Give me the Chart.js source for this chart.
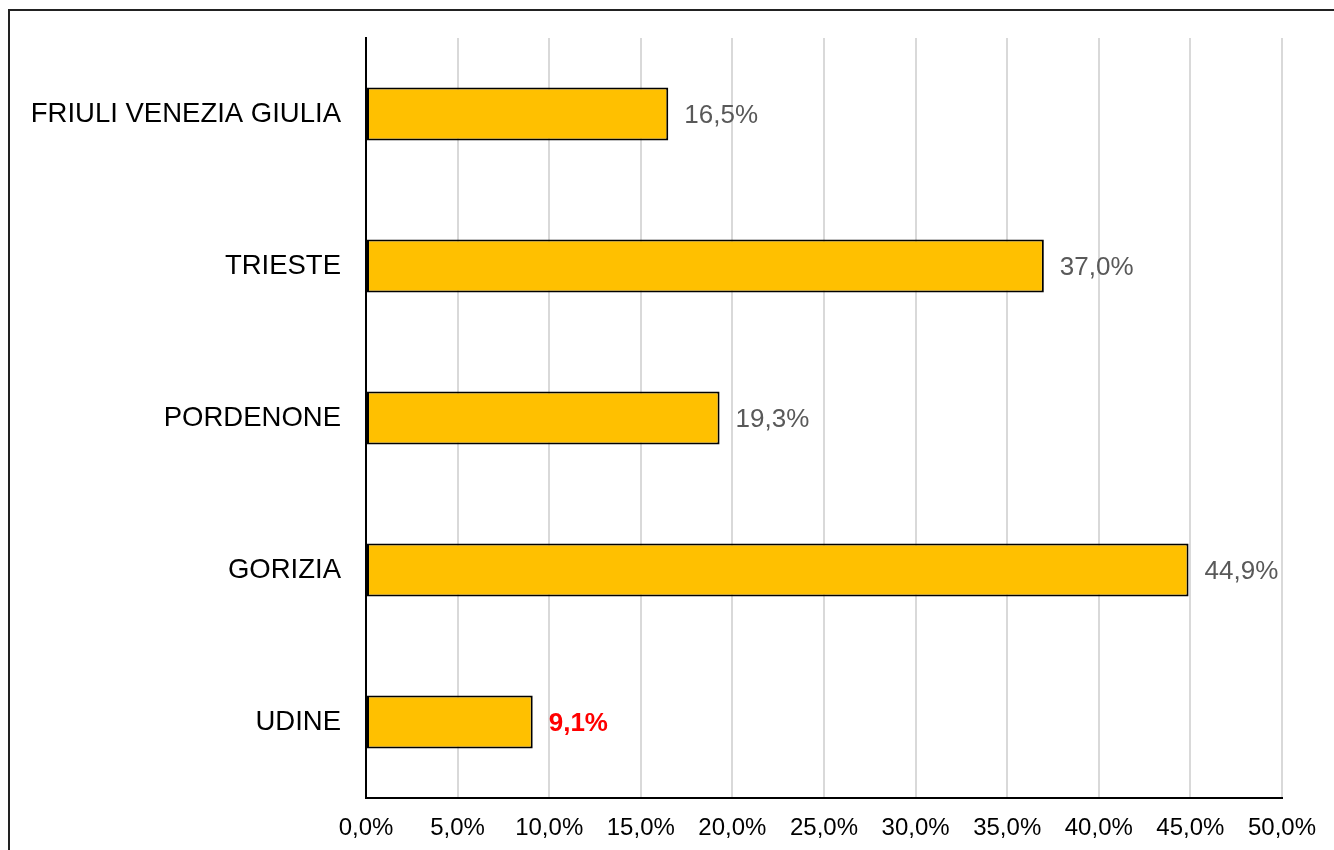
<!DOCTYPE html>
<html>
<head>
<meta charset="utf-8">
<script src="https://cdn.jsdelivr.net/npm/chart.js@4/dist/chart.umd.min.js"></script>
<style>
  html, body { margin: 0; padding: 0; background: #fff; }
  #wrap { width: 1334px; height: 850px; }
</style>
</head>
<body>
<div id="wrap"><canvas id="chart" width="1334" height="850"></canvas></div>
<script>
/* =========================
    DATA
========================= */

const categories = ["FRIULI VENEZIA GIULIA", "TRIESTE", "PORDENONE", "GORIZIA", "UDINE"];
const values = [16.5, 37.0, 19.3, 44.9, 9.1];
const highlight = [false, false, false, false, true];   // UDINE in rosso

const axisMin = 0;
const axisMax = 50;
const axisStep = 5;

const FONT = "'Liberation Sans', Arial, sans-serif";

function fmt(v) {
  return v.toFixed(1).replace(".", ",") + "%";
}

/* =========================
    PLUGINS
========================= */

// cornice esterna (tagliata a destra e in basso)
const framePlugin = {
  id: "frame",
  afterDraw(chart) {
    const ctx = chart.ctx;
    ctx.save();
    ctx.strokeStyle = "#222";
    ctx.lineWidth = 2;
    ctx.strokeRect(9, 10, 1340, 860);
    ctx.restore();
  }
};

// etichette dei valori a destra delle barre
const valueLabels = {
  id: "valueLabels",
  afterDatasetsDraw(chart) {
    const ctx = chart.ctx;
    const meta = chart.getDatasetMeta(0);
    ctx.save();
    ctx.textBaseline = "middle";
    ctx.textAlign = "left";
    meta.data.forEach((bar, i) => {
      if (highlight[i]) {
        ctx.fillStyle = "#FF0000";
        ctx.font = "bold 26px " + FONT;
      } else {
        ctx.fillStyle = "#595959";
        ctx.font = "26px " + FONT;
      }
      ctx.fillText(fmt(values[i]), bar.x + 16, bar.y + 2);
    });
    ctx.restore();
  }
};

/* =========================
    CHART
========================= */

new Chart(document.getElementById("chart"), {
  type: "bar",
  data: {
    labels: categories,
    datasets: [{
      data: values,
      backgroundColor: "#FFC000",
      borderColor: "#000",
      borderWidth: 2,
      borderSkipped: false,
      categoryPercentage: 1,
      barPercentage: 0.35
    }]
  },
  options: {
    indexAxis: "y",
    responsive: false,
    animation: false,
    layout: { padding: { left: 0, right: 52, top: 38, bottom: 0 } },
    plugins: {
      legend: { display: false },
      tooltip: { enabled: false }
    },
    scales: {
      x: {
        min: axisMin,
        max: axisMax,
        afterFit(scale) {
          scale.height = 52;
          scale.paddingLeft = 0;
          scale.paddingRight = 0;
        },
        ticks: {
          stepSize: axisStep,
          padding: 16,
          color: "#000",
          font: { family: FONT, size: 24 },
          callback: (v) => fmt(v)
        },
        grid: {
          drawTicks: false,
          lineWidth: 2,
          color: (c) => (c.tick && c.tick.value === 0 ? "rgba(0,0,0,0)" : "#D9D9D9")
        },
        border: { color: "#000", width: 2 }
      },
      y: {
        afterFit(scale) {
          scale.width = 366;
          scale.paddingTop = 0;
          scale.paddingBottom = 0;
        },
        ticks: {
          padding: 25,
          color: "#000",
          font: { family: FONT, size: 27.5 }
        },
        grid: { display: false, drawTicks: false },
        border: { color: "#000", width: 2 }
      }
    }
  },
  plugins: [framePlugin, valueLabels]
});
</script>
</body>
</html>
